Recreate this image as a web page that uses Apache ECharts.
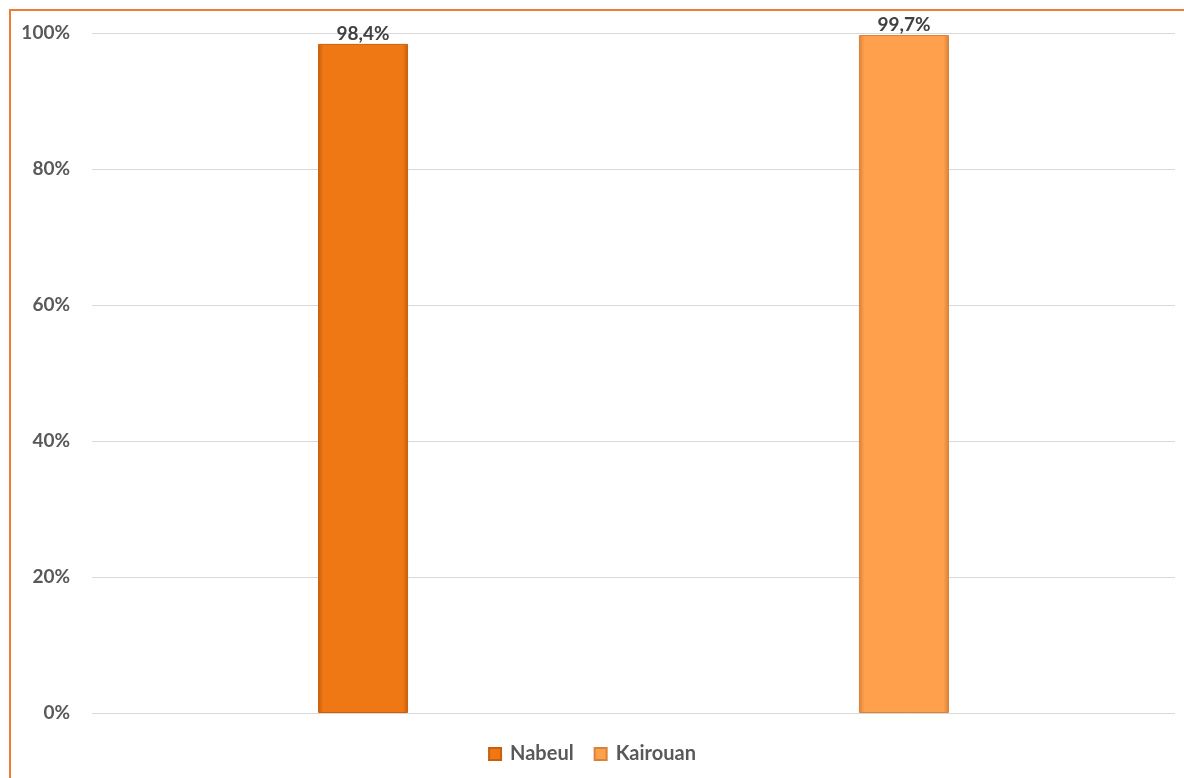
<!DOCTYPE html>
<html>
<head>
<meta charset="utf-8">
<script src="https://cdn.jsdelivr.net/npm/echarts@6/dist/echarts.min.js"></script>
<style>
html,body{margin:0;padding:0;background:#fff;}
#frame{position:absolute;left:9px;top:9px;width:1200px;height:800px;border-left:2px solid #ED7D31;border-top:2px solid #ED7D31;}
#chart{position:absolute;left:0;top:0;width:1184px;height:778px;}
</style>
</head>
<body>
<div id="frame"></div>
<div id="chart"></div>
<script>
const categories = [''];
const seriesNames = ['Nabeul', 'Kairouan'];
const nabeulValues = [98.4];
const kairouanValues = [99.7];
const yTicks = [0, 20, 40, 60, 80, 100];

const colors = {
  Nabeul: { main: '#F07814', dark: '#C85F0C' },
  Kairouan: { main: '#FFA04C', dark: '#D9823A' }
};

function barStyle(c) {
  return {
    color: new echarts.graphic.LinearGradient(0, 0, 1, 0, [
      { offset: 0, color: c.dark },
      { offset: 0.06, color: c.main },
      { offset: 0.94, color: c.main },
      { offset: 1, color: c.dark }
    ]),
    borderColor: c.dark,
    borderWidth: 1
  };
}

const fontFamily = 'Lato, "Open Sans", sans-serif';

const labelStyle = {
  show: true,
  position: 'top',
  distance: 1,
  fontFamily: fontFamily,
  fontWeight: 'bold',
  fontSize: 19,
  color: '#404040',
  formatter: p => p.value.toFixed(1).replace('.', ',') + '%'
};

const chart = echarts.init(document.getElementById('chart'));
chart.setOption({
  animation: false,
  grid: { left: 92, right: 9, top: 33, bottom: 65, containLabel: false },
  legend: {
    data: seriesNames,
    bottom: 9,
    left: 'center',
    itemWidth: 12,
    itemHeight: 12,
    itemGap: 20,
    icon: 'rect',
    textStyle: { fontFamily: fontFamily, fontWeight: 'bold', fontSize: 20, color: '#595959', padding: [0, 0, 0, 4] }
  },
  xAxis: {
    type: 'category',
    data: categories,
    axisLine: { show: false },
    axisTick: { show: false },
    axisLabel: { show: false }
  },
  yAxis: {
    type: 'value',
    min: 0,
    max: 100,
    interval: 20,
    axisLine: { show: false },
    axisTick: { show: false },
    splitLine: { lineStyle: { color: '#D9D9D9', width: 1 } },
    axisLabel: {
      margin: 22,
      fontFamily: fontFamily,
      fontWeight: 'bold',
      fontSize: 19,
      color: '#595959',
      formatter: v => yTicks.includes(v) ? v + '%' : ''
    }
  },
  series: [
    {
      name: seriesNames[0],
      type: 'bar',
      data: nabeulValues,
      barWidth: 90,
      barGap: '501%',
      itemStyle: barStyle(colors.Nabeul),
      label: labelStyle
    },
    {
      name: seriesNames[1],
      type: 'bar',
      data: kairouanValues,
      barWidth: 90,
      itemStyle: barStyle(colors.Kairouan),
      label: labelStyle
    }
  ]
});
</script>
</body>
</html>
